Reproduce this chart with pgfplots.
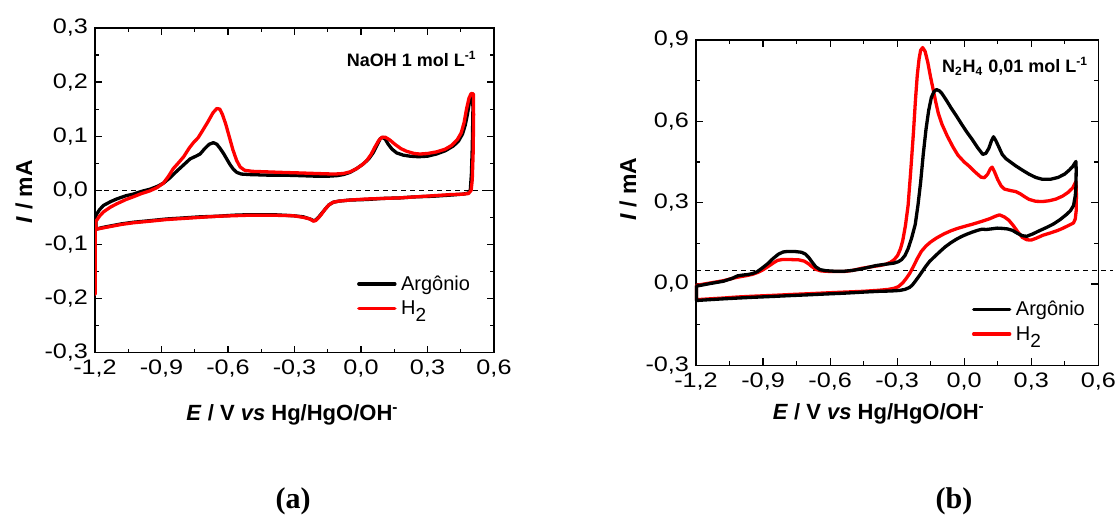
\documentclass[border=0pt]{standalone}
\usepackage{fontspec}
\setmainfont{Liberation Sans}
\newfontfamily\tickfont{Liberation Sans}[FakeStretch=1.2]
\newfontfamily\capfont{Liberation Serif}
\usepackage{pgfplots}
\pgfplotsset{compat=1.18}

\pgfplotsset{
  cvaxis/.style={
    scale only axis,
    anchor=south west,
    xmin=-1.2, xmax=0.6,
    xtick={-1.2,-0.9,-0.6,-0.3,0,0.3,0.6},
    minor x tick num=1,
    minor y tick num=1,
    tick align=inside,
    major tick length=3.5pt,
    minor tick length=2pt,
    axis line style={line width=0.6pt},
    every tick/.style={black, line width=0.6pt},
    tick label style={font=\tickfont\fontsize{10.5}{12}\selectfont},
    /pgf/number format/fixed,
    /pgf/number format/fixed zerofill,
    /pgf/number format/precision=1,
    /pgf/number format/use comma,
    /pgf/number format/assume math mode=true,
    legend cell align=left,
    legend image code/.code={\draw[##1, line width=1.7pt] (0pt,0pt) -- (18pt,0pt); \path (20.3pt,0pt);},
    legend style={draw=none, fill=none, inner sep=0pt, anchor=west,
      font=\fontsize{10}{12}\selectfont,
      nodes={inner sep=0pt, text height=7.2pt, text depth=0.6pt}},
  },
  cv/.style={line width=1.65pt, line join=round, line cap=round},
}

\begin{document}
\begin{tikzpicture}
\useasboundingbox (0,0) rectangle (559pt,257pt);

% (a) NaOH
\begin{axis}[cvaxis,
  at={(47.5pt,80.65pt)},
  width=199.5pt, height=162.4pt,
  ymin=-0.3, ymax=0.3,
  ytick={-0.3,-0.2,-0.1,0,0.1,0.2,0.3},
  legend style={at={(0.656,0.174)}, row sep=4.35pt},
]
\addplot[black, dashed, line width=0.6pt, dash pattern=on 2.5pt off 2pt, forget plot] coordinates {(-1.2,0) (0.6,0)};

% Argonio
\addplot[cv, black] coordinates {
(-1.197,-0.047) (-1.180,-0.036) (-1.162,-0.028) (-1.130,-0.021) (-1.102,-0.016)
(-1.060,-0.010) (-1.027,-0.007) (-0.990,-0.002) (-0.952,0.002) (-0.920,0.007)
(-0.892,0.013) (-0.862,0.023) (-0.832,0.035) (-0.800,0.047) (-0.771,0.058)
(-0.745,0.063) (-0.726,0.067) (-0.705,0.077) (-0.685,0.085) (-0.666,0.088)
(-0.650,0.085) (-0.635,0.077) (-0.620,0.068) (-0.606,0.058) (-0.590,0.047)
(-0.576,0.039) (-0.560,0.033) (-0.540,0.030) (-0.500,0.029) (-0.420,0.028)
(-0.350,0.028) (-0.270,0.027) (-0.200,0.026) (-0.150,0.026) (-0.110,0.027)
(-0.080,0.029) (-0.050,0.033) (-0.020,0.040) (0.011,0.049) (0.035,0.058)
(0.056,0.070) (0.072,0.083) (0.086,0.095) (0.098,0.098) (0.110,0.094)
(0.123,0.085) (0.140,0.076) (0.161,0.069) (0.190,0.065) (0.221,0.063)
(0.260,0.062) (0.300,0.063) (0.340,0.067) (0.380,0.073) (0.417,0.082)
(0.440,0.091) (0.458,0.104) (0.470,0.120) (0.480,0.140) (0.490,0.165)
(0.498,0.177) (0.504,0.178) (0.505,0.150) (0.502,0.080) (0.498,0.030)
(0.493,0.000) (0.484,-0.005) (0.462,-0.007) (0.400,-0.009) (0.326,-0.011)
(0.250,-0.012) (0.176,-0.014) (0.100,-0.015) (0.026,-0.017) (-0.050,-0.018)
(-0.100,-0.020) (-0.125,-0.022) (-0.145,-0.027) (-0.162,-0.035) (-0.178,-0.043)
(-0.192,-0.050) (-0.205,-0.055) (-0.215,-0.056) (-0.230,-0.053) (-0.260,-0.049)
(-0.305,-0.047) (-0.400,-0.045) (-0.500,-0.045) (-0.576,-0.046) (-0.650,-0.048)
(-0.726,-0.049) (-0.800,-0.051) (-0.877,-0.053) (-0.950,-0.056) (-1.027,-0.059)
(-1.080,-0.062) (-1.132,-0.066) (-1.170,-0.069) (-1.195,-0.072) (-1.197,-0.047)
};
\addlegendentry{Argônio}

% H2
\addplot[cv, red] coordinates {
(-1.199,-0.192) (-1.199,-0.075) (-1.197,-0.058) (-1.180,-0.048) (-1.162,-0.040)
(-1.130,-0.031) (-1.102,-0.025) (-1.060,-0.017) (-1.027,-0.012) (-0.990,-0.006)
(-0.952,-0.001) (-0.920,0.005) (-0.892,0.013) (-0.870,0.025) (-0.847,0.040)
(-0.825,0.050) (-0.800,0.062) (-0.775,0.078) (-0.756,0.088) (-0.735,0.097)
(-0.715,0.110) (-0.690,0.127) (-0.668,0.143) (-0.651,0.151) (-0.637,0.150)
(-0.625,0.140) (-0.610,0.122) (-0.595,0.100) (-0.578,0.075) (-0.561,0.055)
(-0.545,0.043) (-0.525,0.037) (-0.490,0.035) (-0.420,0.034) (-0.350,0.033)
(-0.270,0.032) (-0.200,0.031) (-0.120,0.030) (-0.080,0.031) (-0.050,0.034)
(-0.020,0.040) (0.005,0.047) (0.026,0.055) (0.045,0.066) (0.063,0.080)
(0.080,0.092) (0.095,0.098) (0.110,0.098) (0.130,0.093) (0.153,0.085)
(0.180,0.077) (0.206,0.072) (0.240,0.068) (0.266,0.067) (0.300,0.068)
(0.341,0.071) (0.380,0.076) (0.409,0.083) (0.435,0.094) (0.452,0.106)
(0.465,0.125) (0.476,0.150) (0.487,0.170) (0.497,0.179) (0.507,0.178)
(0.508,0.140) (0.506,0.070) (0.502,0.020) (0.497,0.000) (0.485,-0.006)
(0.462,-0.007) (0.400,-0.008) (0.326,-0.010) (0.250,-0.012) (0.176,-0.014)
(0.100,-0.015) (0.026,-0.016) (-0.050,-0.018) (-0.100,-0.020) (-0.125,-0.022)
(-0.145,-0.027) (-0.162,-0.035) (-0.178,-0.044) (-0.192,-0.051) (-0.205,-0.056)
(-0.215,-0.057) (-0.230,-0.053) (-0.260,-0.050) (-0.305,-0.047) (-0.400,-0.046)
(-0.500,-0.046) (-0.576,-0.047) (-0.650,-0.048) (-0.726,-0.050) (-0.800,-0.052)
(-0.877,-0.054) (-0.950,-0.057) (-1.027,-0.060) (-1.080,-0.063) (-1.132,-0.067)
(-1.170,-0.070) (-1.195,-0.072) (-1.197,-0.058)
};
\addlegendentry{H\raisebox{-0.33em}{\fontsize{9.5}{11}\selectfont 2}}
\end{axis}

% (b) N2H4
\begin{axis}[cvaxis,
  at={(348pt,74.35pt)},
  width=201.15pt, height=162.65pt,
  ymin=-0.3, ymax=0.9,
  ytick={-0.3,0,0.3,0.6,0.9},
  clip=false,
  reverse legend,
  legend style={at={(0.685,0.134)}, row sep=4.55pt},
]
\addplot[black, dashed, line width=0.6pt, dash pattern=on 2.5pt off 2pt, forget plot] coordinates {(-1.2,0.05) (0.665,0.05)};

% H2
\addplot[cv, red] coordinates {
(-1.198,-0.005) (-1.141,0.003) (-1.078,0.012) (-1.040,0.020) (-1.014,0.025)
(-0.980,0.030) (-0.950,0.035) (-0.925,0.042) (-0.903,0.051) (-0.880,0.063)
(-0.855,0.077) (-0.835,0.087) (-0.815,0.090) (-0.775,0.090) (-0.740,0.089)
(-0.715,0.084) (-0.696,0.074) (-0.680,0.063) (-0.664,0.054) (-0.640,0.048)
(-0.600,0.046) (-0.537,0.046) (-0.500,0.050) (-0.457,0.058) (-0.420,0.063)
(-0.378,0.068) (-0.350,0.073) (-0.330,0.080) (-0.313,0.090) (-0.298,0.105)
(-0.285,0.130) (-0.275,0.160) (-0.263,0.215) (-0.251,0.290) (-0.239,0.420)
(-0.227,0.560) (-0.218,0.680) (-0.210,0.770) (-0.202,0.830) (-0.195,0.862)
(-0.186,0.872) (-0.175,0.858) (-0.163,0.818) (-0.151,0.765) (-0.139,0.718)
(-0.127,0.670) (-0.116,0.630) (-0.100,0.590) (-0.076,0.546) (-0.050,0.505)
(-0.028,0.475) (0.000,0.450) (0.020,0.436) (0.050,0.412) (0.075,0.394)
(0.090,0.392) (0.105,0.405) (0.117,0.425) (0.125,0.431) (0.135,0.415)
(0.150,0.385) (0.165,0.362) (0.180,0.350) (0.210,0.344) (0.230,0.341)
(0.250,0.333) (0.270,0.322) (0.290,0.312) (0.320,0.305) (0.350,0.304)
(0.380,0.307) (0.410,0.313) (0.440,0.324) (0.465,0.338) (0.485,0.354)
(0.500,0.378) (0.502,0.330) (0.501,0.270) (0.497,0.240) (0.489,0.225)
(0.465,0.215) (0.440,0.205) (0.417,0.197) (0.385,0.188) (0.353,0.180)
(0.320,0.168) (0.300,0.162) (0.280,0.163) (0.260,0.172) (0.240,0.192)
(0.220,0.215) (0.200,0.235) (0.180,0.247) (0.158,0.255) (0.140,0.250)
(0.115,0.241) (0.090,0.234) (0.067,0.228) (0.035,0.220) (0.004,0.213)
(-0.030,0.205) (-0.060,0.196) (-0.090,0.185) (-0.123,0.170) (-0.150,0.155)
(-0.171,0.140) (-0.192,0.120) (-0.211,0.092) (-0.227,0.065) (-0.243,0.040)
(-0.258,0.022) (-0.275,0.004) (-0.295,-0.010) (-0.314,-0.016) (-0.340,-0.020)
(-0.378,-0.023) (-0.450,-0.027) (-0.537,-0.030) (-0.620,-0.033) (-0.696,-0.036)
(-0.780,-0.039) (-0.855,-0.042) (-0.940,-0.045) (-1.014,-0.048) (-1.080,-0.052)
(-1.141,-0.055) (-1.198,-0.058) (-1.198,-0.005)
};
\addlegendentry{H\raisebox{-0.33em}{\fontsize{9.5}{11}\selectfont 2}}

% Argonio
\addplot[cv, black] coordinates {
(-1.198,-0.008) (-1.141,0.001) (-1.078,0.010) (-1.040,0.020) (-1.014,0.030)
(-0.990,0.033) (-0.966,0.035) (-0.945,0.039) (-0.927,0.045) (-0.905,0.058)
(-0.879,0.075) (-0.855,0.094) (-0.831,0.110) (-0.810,0.118) (-0.791,0.120)
(-0.760,0.120) (-0.728,0.117) (-0.710,0.110) (-0.696,0.098) (-0.680,0.080)
(-0.664,0.063) (-0.645,0.053) (-0.620,0.049) (-0.580,0.047) (-0.537,0.047)
(-0.500,0.050) (-0.457,0.056) (-0.420,0.063) (-0.394,0.068) (-0.350,0.073)
(-0.314,0.077) (-0.295,0.082) (-0.280,0.090) (-0.265,0.105) (-0.251,0.130)
(-0.235,0.170) (-0.219,0.220) (-0.207,0.290) (-0.195,0.375) (-0.183,0.480)
(-0.171,0.570) (-0.159,0.640) (-0.147,0.688) (-0.135,0.710) (-0.124,0.717)
(-0.110,0.712) (-0.100,0.703) (-0.080,0.678) (-0.060,0.651) (-0.035,0.620)
(-0.012,0.590) (0.012,0.560) (0.035,0.534) (0.060,0.503) (0.083,0.478)
(0.097,0.482) (0.110,0.500) (0.122,0.528) (0.131,0.543) (0.142,0.528)
(0.155,0.505) (0.170,0.478) (0.187,0.462) (0.210,0.448) (0.230,0.436)
(0.260,0.420) (0.290,0.405) (0.320,0.393) (0.350,0.386) (0.385,0.386)
(0.420,0.393) (0.449,0.405) (0.470,0.420) (0.485,0.433) (0.500,0.452)
(0.501,0.420) (0.500,0.360) (0.497,0.326) (0.489,0.289) (0.475,0.270)
(0.457,0.256) (0.430,0.238) (0.401,0.222) (0.370,0.209) (0.338,0.197)
(0.305,0.184) (0.280,0.176) (0.260,0.178) (0.240,0.186) (0.215,0.198)
(0.194,0.203) (0.170,0.205) (0.147,0.206) (0.120,0.203) (0.099,0.201)
(0.080,0.202) (0.060,0.198) (0.035,0.191) (0.010,0.183) (-0.012,0.175)
(-0.035,0.165) (-0.060,0.152) (-0.085,0.137) (-0.108,0.120) (-0.130,0.103)
(-0.155,0.083) (-0.172,0.065) (-0.187,0.047) (-0.203,0.028) (-0.219,0.010)
(-0.232,-0.004) (-0.245,-0.013) (-0.265,-0.020) (-0.290,-0.024) (-0.330,-0.026)
(-0.378,-0.027) (-0.450,-0.030) (-0.537,-0.034) (-0.620,-0.037) (-0.696,-0.040)
(-0.780,-0.043) (-0.855,-0.046) (-0.940,-0.049) (-1.014,-0.052) (-1.080,-0.055)
(-1.141,-0.058) (-1.198,-0.061) (-1.198,-0.008)
};
\addlegendentry{Argônio}
\end{axis}

% axis labels, notes and panel captions
\node[rotate=90, font=\bfseries\fontsize{11.5}{13}\selectfont] at (12pt,161.2pt) {\textit{I} / mA};
\node[rotate=90, font=\bfseries\fontsize{11.5}{13}\selectfont] at (314pt,162.5pt) {\textit{I} / mA};
\node[anchor=base, inner sep=0pt, font=\bfseries\fontsize{11}{13}\selectfont] at (146.25pt,47pt) {\textit{E} / V \textit{vs} Hg/HgO/OH\textsuperscript{-}};
\node[anchor=base, inner sep=0pt, font=\bfseries\fontsize{11}{13}\selectfont] at (439.4pt,47.35pt) {\textit{E} / V \textit{vs} Hg/HgO/OH\textsuperscript{-}};
\node[anchor=base east, inner sep=0pt, font=\bfseries\fontsize{9}{11}\selectfont] at (238.5pt,223.65pt) {NaOH 1 mol L\textsuperscript{-1}};
\node[anchor=base east, inner sep=0pt, font=\bfseries\fontsize{9}{11}\selectfont] at (544.25pt,220.5pt) {N\textsubscript{2}H\textsubscript{4} 0,01 mol L\textsuperscript{-1}};
\node[anchor=base, inner sep=0pt, font=\capfont\bfseries\fontsize{15}{18}\selectfont] at (146.5pt,2.6pt) {(a)};
\node[anchor=base, inner sep=0pt, font=\capfont\bfseries\fontsize{15}{18}\selectfont] at (477pt,2.6pt) {(b)};
\end{tikzpicture}
\end{document}
